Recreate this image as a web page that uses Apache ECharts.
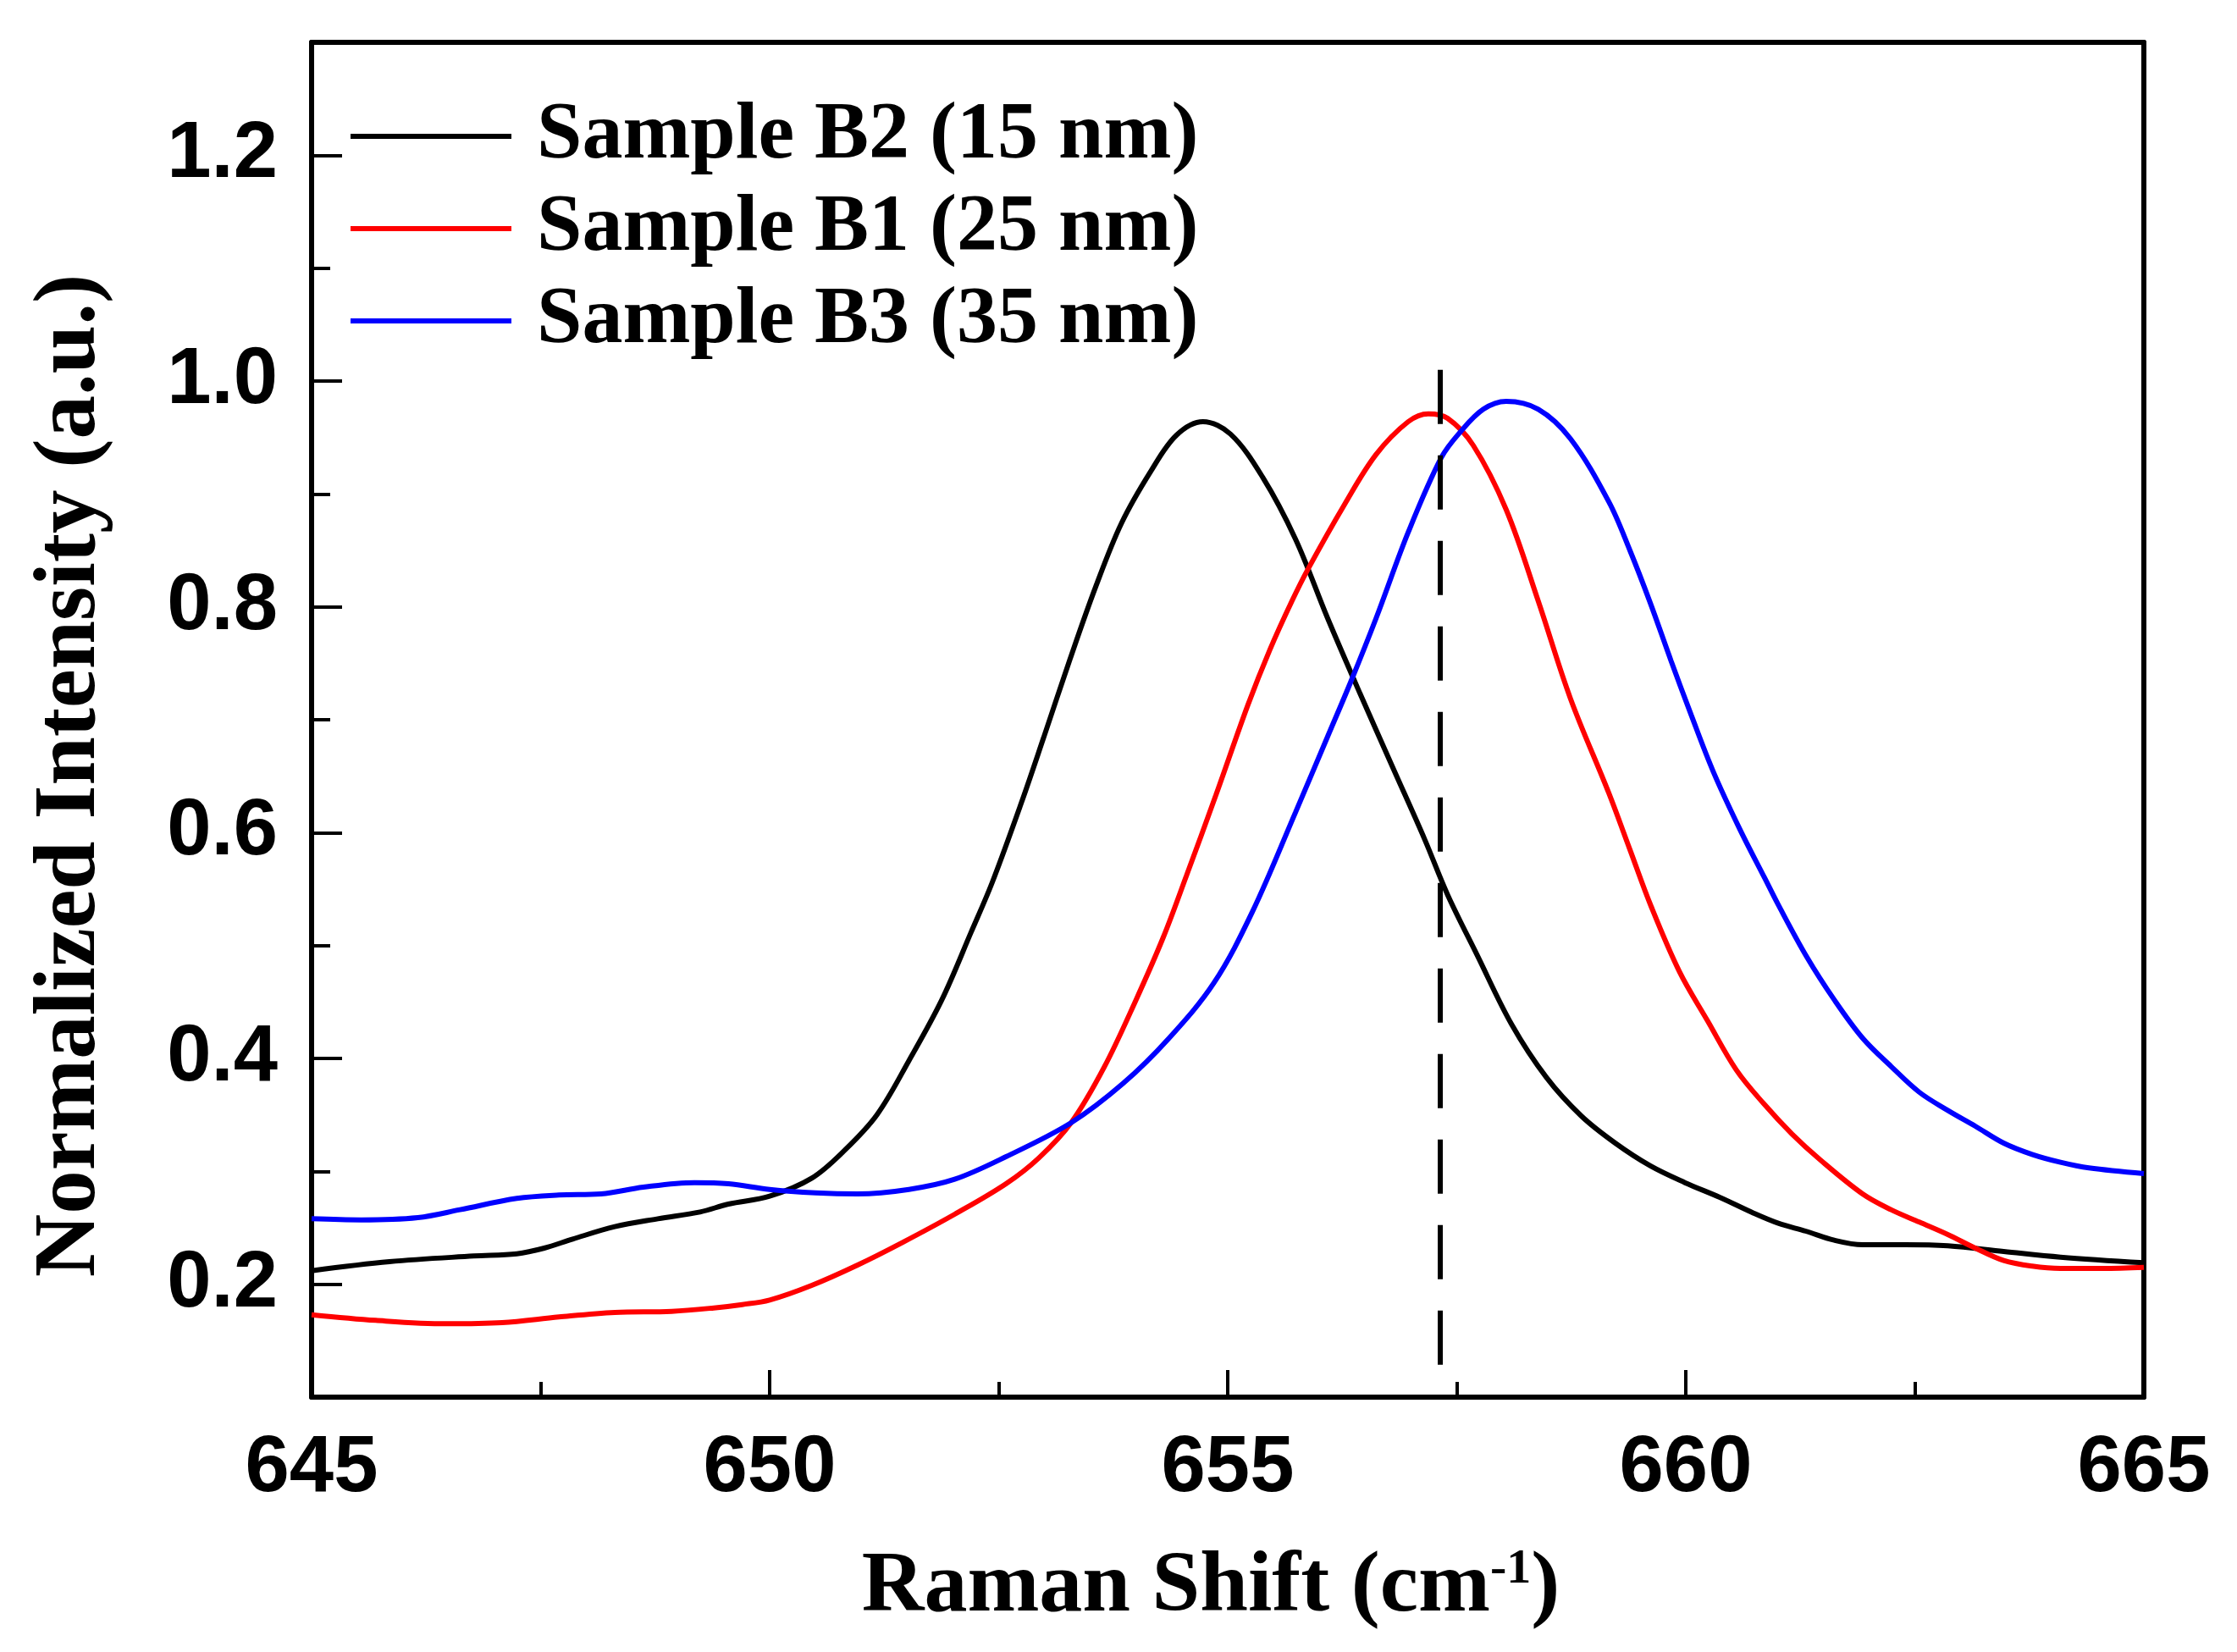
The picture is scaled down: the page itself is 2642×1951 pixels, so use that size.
<!DOCTYPE html>
<html lang="en" style="height: 100%">
<head>
    <meta charset="UTF-8">
    <title>Raman Shift</title>
    <script src="https://cdn.jsdelivr.net/npm/echarts@6/dist/echarts.min.js"></script>
</head>
<body style="height: 100%; margin: 0; background: #fff">
    <div id="chart" style="width: 2642px; height: 1951px"></div>
    <script>
        // Raman shift (cm-1) / normalized intensity pairs
        var shiftB2 = [645, 645.85, 646.77, 647.24, 647.54, 647.85, 648.31, 648.78, 649.24, 649.55, 650, 650.46, 650.81, 651.17, 651.52, 651.88, 652.2, 652.43, 652.75, 652.99, 653.28, 653.56, 653.84, 654.16, 654.44, 654.73, 655.03, 655.38, 655.74, 656.09, 656.44, 656.8, 657.15, 657.4, 657.72, 658.1, 658.48, 658.86, 659.23, 659.61, 659.99, 660.37, 660.74, 661.01, 661.31, 661.62, 661.93, 662.39, 662.86, 663.47, 664.09, 665];
        var intB2 = [0.212, 0.220, 0.225, 0.227, 0.232, 0.240, 0.251, 0.258, 0.264, 0.271, 0.278, 0.294, 0.318, 0.350, 0.398, 0.452, 0.512, 0.556, 0.627, 0.684, 0.754, 0.818, 0.874, 0.920, 0.952, 0.964, 0.953, 0.915, 0.860, 0.790, 0.724, 0.658, 0.594, 0.545, 0.492, 0.430, 0.383, 0.349, 0.325, 0.305, 0.290, 0.277, 0.263, 0.254, 0.247, 0.239, 0.235, 0.235, 0.234, 0.229, 0.224, 0.219];

        var shiftB1 = [645, 645.7, 646.47, 647.08, 647.7, 648.31, 648.93, 649.39, 649.7, 650, 650.46, 650.96, 651.45, 652.02, 652.58, 652.94, 653.29, 653.65, 654, 654.3, 654.55, 654.87, 655.22, 655.46, 655.7, 655.88, 656.27, 656.62, 656.97, 657.19, 657.4, 657.68, 658.04, 658.39, 658.74, 659.16, 659.39, 659.62, 659.93, 660.24, 660.55, 660.85, 661.16, 661.47, 661.93, 662.24, 662.55, 662.86, 663.16, 663.47, 663.78, 664.09, 664.55, 665];
        var intB1 = [0.173, 0.168, 0.165, 0.166, 0.171, 0.175, 0.176, 0.179, 0.182, 0.186, 0.199, 0.217, 0.237, 0.262, 0.289, 0.312, 0.343, 0.392, 0.452, 0.508, 0.562, 0.633, 0.713, 0.762, 0.805, 0.834, 0.890, 0.935, 0.964, 0.971, 0.967, 0.943, 0.886, 0.805, 0.719, 0.635, 0.585, 0.535, 0.477, 0.433, 0.390, 0.360, 0.333, 0.310, 0.280, 0.266, 0.255, 0.244, 0.232, 0.221, 0.216, 0.214, 0.214, 0.215];

        var shiftB3 = [645, 645.54, 646.16, 646.62, 647.24, 647.7, 648.16, 648.62, 649.18, 649.55, 650, 650.5, 650.96, 651.52, 652.02, 652.58, 653.29, 653.86, 654.36, 654.85, 655.27, 655.74, 656.09, 656.34, 656.62, 656.97, 657.33, 657.54, 657.79, 658.04, 658.39, 658.74, 659.16, 659.39, 659.61, 659.84, 660.06, 660.3, 660.59, 660.86, 661.01, 661.32, 661.62, 661.93, 662.24, 662.55, 662.86, 663.16, 663.47, 663.78, 664.09, 664.4, 665];
        var intB3 = [0.258, 0.257, 0.259, 0.266, 0.276, 0.279, 0.280, 0.286, 0.290, 0.289, 0.284, 0.281, 0.280, 0.284, 0.293, 0.313, 0.343, 0.378, 0.418, 0.467, 0.530, 0.618, 0.685, 0.733, 0.790, 0.866, 0.932, 0.955, 0.975, 0.982, 0.975, 0.949, 0.893, 0.850, 0.804, 0.752, 0.704, 0.654, 0.603, 0.560, 0.536, 0.490, 0.452, 0.418, 0.393, 0.370, 0.354, 0.340, 0.325, 0.315, 0.308, 0.303, 0.298];

        var seriesNames = ['Sample B2 (15 nm)', 'Sample B1 (25 nm)', 'Sample B3 (35 nm)'];
        var seriesColors = ['#000000', '#ff0000', '#0000ff'];

        // vertical dashed reference line (top point first so the dashes start at the top)
        var refShift = [657.32, 657.32];
        var refInt = [1.01, 0.1];

        var yMajorTicks = [0.2, 0.4, 0.6, 0.8, 1.0, 1.2];

        function pairs(xs, ys) {
            return xs.map(function (x, i) { return [x, ys[i]]; });
        }

        var chart = echarts.init(document.getElementById('chart'));

        var serif = 'Liberation Serif';
        var sans = 'Liberation Sans';

        var curves = [pairs(shiftB2, intB2), pairs(shiftB1, intB1), pairs(shiftB3, intB3)];

        var series = curves.map(function (d, i) {
            return {
                name: seriesNames[i],
                type: 'line',
                data: d,
                symbol: 'none',
                smooth: 0.35,
                lineStyle: { color: seriesColors[i], width: 6 },
                itemStyle: { color: seriesColors[i] },
                z: 3
            };
        });
        series.push({
            name: 'ref',
            type: 'line',
            data: pairs(refShift, refInt),
            symbol: 'none',
            lineStyle: { color: '#000', width: 6, type: [64, 37] },
            z: 4
        });

        var option = {
            animation: false,
            backgroundColor: '#fff',
            grid: {
                left: 368,
                right: 110,
                top: 50,
                bottom: 301,
                show: false
            },
            legend: {
                data: seriesNames,
                orient: 'vertical',
                left: 409,
                top: 108,
                icon: 'rect',
                itemWidth: 190,
                itemHeight: 6,
                itemGap: 13,
                textStyle: {
                    fontFamily: serif,
                    fontWeight: 'bold',
                    fontSize: 96,
                    color: '#000',
                    padding: [0, 0, 0, 25]
                }
            },
            xAxis: [{
                type: 'value',
                min: 645,
                max: 665,
                interval: 5,
                name: '{t|Raman Shift (cm}{s|-1}{t|)}',
                nameLocation: 'middle',
                nameGap: 175,
                nameTextStyle: {
                    padding: [0, 40, 0, 0],
                    rich: {
                        t: { fontFamily: serif, fontWeight: 'bold', fontSize: 102, color: '#000' },
                        s: { fontFamily: serif, fontWeight: 'bold', fontSize: 58, color: '#000', verticalAlign: 'top' }
                    }
                },
                axisLine: { lineStyle: { color: '#000', width: 6 } },
                axisTick: { inside: true, length: 32, lineStyle: { color: '#000', width: 4 } },
                minorTick: { show: true, splitNumber: 2, length: 18, lineStyle: { color: '#000', width: 4 } },
                splitLine: { show: false },
                axisLabel: {
                    fontFamily: sans,
                    fontWeight: 'bold',
                    fontSize: 94,
                    color: '#000',
                    margin: 38
                }
            }, {
                type: 'value',
                position: 'top',
                min: 645,
                max: 665,
                axisLine: { show: true, lineStyle: { color: '#000', width: 6 } },
                axisTick: { show: false },
                axisLabel: { show: false },
                splitLine: { show: false }
            }],
            yAxis: [{
                type: 'value',
                min: 0.1,
                max: 1.3,
                interval: 0.1,
                name: 'Normalized Intensity (a.u.)',
                nameLocation: 'middle',
                nameRotate: 90,
                nameGap: 232,
                nameTextStyle: {
                    fontFamily: serif,
                    fontWeight: 'bold',
                    fontSize: 103,
                    color: '#000',
                    padding: [0, 132, 0, 0]
                },
                axisLine: { show: true, lineStyle: { color: '#000', width: 6 } },
                axisTick: {
                    inside: true,
                    length: 36,
                    customValues: yMajorTicks,
                    lineStyle: { color: '#000', width: 4 }
                },
                axisLabel: {
                    customValues: yMajorTicks,
                    formatter: function (v) { return v.toFixed(1); },
                    fontFamily: sans,
                    fontWeight: 'bold',
                    fontSize: 94,
                    color: '#000',
                    margin: 40
                },
                splitLine: { show: false }
            }, {
                type: 'value',
                position: 'right',
                min: 0.1,
                max: 1.3,
                axisLine: { show: true, lineStyle: { color: '#000', width: 6 } },
                axisTick: { show: false },
                axisLabel: { show: false },
                splitLine: { show: false }
            }, {
                // minor ticks every 0.1
                type: 'value',
                position: 'left',
                min: 0.1,
                max: 1.3,
                interval: 0.1,
                axisLine: { show: false },
                axisTick: { inside: true, length: 22, lineStyle: { color: '#000', width: 4 } },
                axisLabel: { show: false },
                splitLine: { show: false }
            }],
            series: series
        };

        chart.setOption(option);
    </script>
</body>
</html>
